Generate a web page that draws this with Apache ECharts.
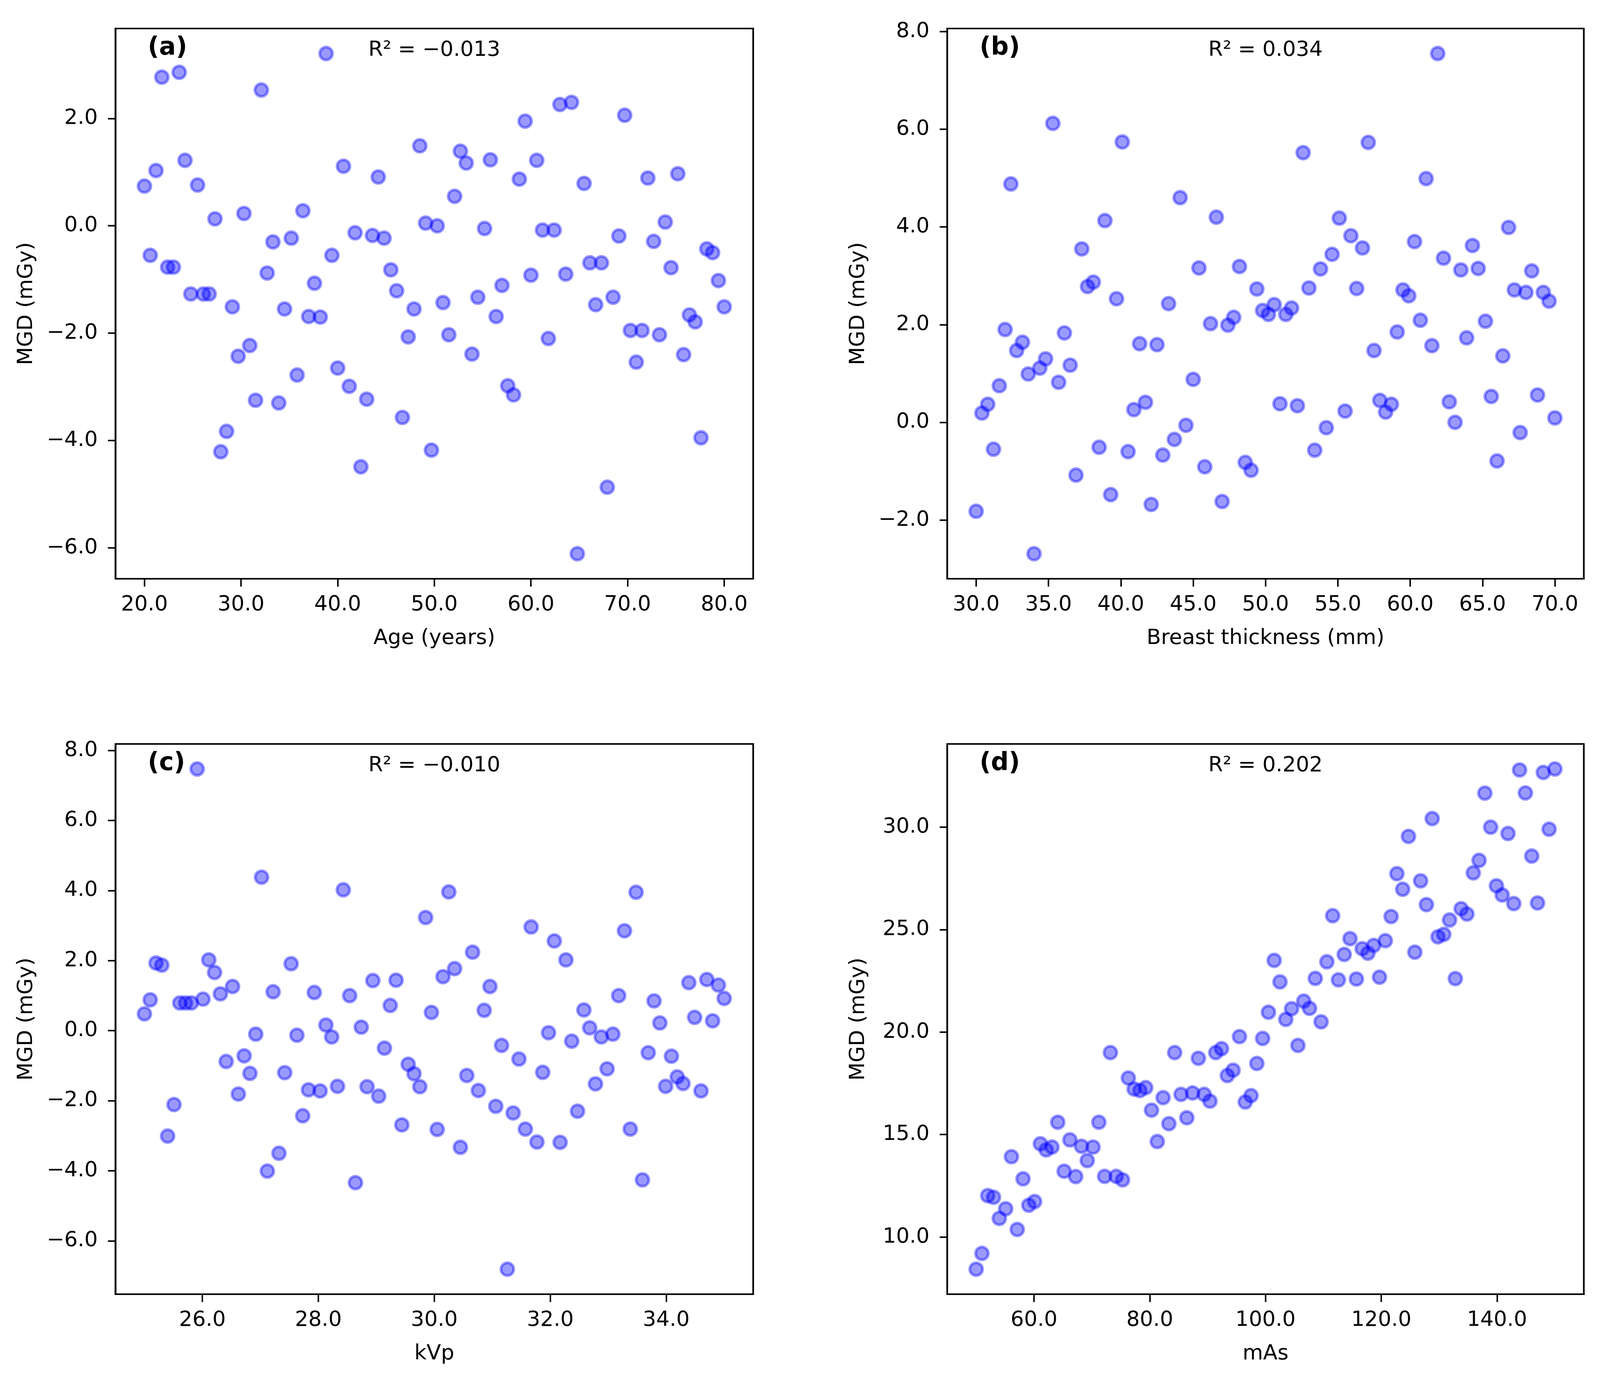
<!DOCTYPE html>
<html>
<head>
<meta charset="utf-8">
<script src="https://cdn.jsdelivr.net/npm/echarts@6.0.0/dist/echarts.min.js"></script>
<style>
  html, body { margin: 0; padding: 0; background: #fff; overflow: hidden; }
  #chart { width: 100vw; height: 100vh; }
</style>
</head>
<body>
<div id="chart"></div>
<script>
// (a) age vs MGD
const ageX = [
  20.0, 20.6, 21.2, 21.8, 22.4, 23.0, 23.6, 24.2, 24.8, 25.5,
  26.1, 26.7, 27.3, 27.9, 28.5, 29.1, 29.7, 30.3, 30.9, 31.5,
  32.1, 32.7, 33.3, 33.9, 34.5, 35.2, 35.8, 36.4, 37.0, 37.6,
  38.2, 38.8, 39.4, 40.0, 40.6, 41.2, 41.8, 42.4, 43.0, 43.6,
  44.2, 44.8, 45.5, 46.1, 46.7, 47.3, 47.9, 48.5, 49.1, 49.7,
  50.3, 50.9, 51.5, 52.1, 52.7, 53.3, 53.9, 54.5, 55.2, 55.8,
  56.4, 57.0, 57.6, 58.2, 58.8, 59.4, 60.0, 60.6, 61.2, 61.8,
  62.4, 63.0, 63.6, 64.2, 64.8, 65.5, 66.1, 66.7, 67.3, 67.9,
  68.5, 69.1, 69.7, 70.3, 70.9, 71.5, 72.1, 72.7, 73.3, 73.9,
  74.5, 75.2, 75.8, 76.4, 77.0, 77.6, 78.2, 78.8, 79.4, 80.0
];
const ageY = [
  0.74, -0.55, 1.03, 2.77, -0.77, -0.77, 2.86, 1.22, -1.27, 0.76,
  -1.27, -1.27, 0.13, -4.21, -3.83, -1.51, -2.43, 0.23, -2.23, -3.25,
  2.53, -0.88, -0.30, -3.30, -1.55, -0.23, -2.78, 0.28, -1.69, -1.07,
  -1.70, 3.21, -0.55, -2.65, 1.11, -2.99, -0.13, -4.49, -3.23, -0.18,
  0.91, -0.23, -0.82, -1.21, -3.57, -2.07, -1.55, 1.49, 0.05, -4.18,
  0.00, -1.43, -2.03, 0.55, 1.39, 1.17, -2.39, -1.33, -0.05, 1.23,
  -1.69, -1.11, -2.98, -3.15, 0.87, 1.95, -0.92, 1.22, -0.08, -2.10,
  -0.08, 2.26, -0.90, 2.30, -6.11, 0.79, -0.69, -1.47, -0.69, -4.87,
  -1.33, -0.19, 2.06, -1.95, -2.54, -1.95, 0.89, -0.29, -2.03, 0.07,
  -0.78, 0.97, -2.40, -1.66, -1.79, -3.95, -0.43, -0.50, -1.02, -1.51
];

// (b) breast thickness vs MGD
const thickX = [
  30.0, 30.4, 30.8, 31.2, 31.6, 32.0, 32.4, 32.8, 33.2, 33.6,
  34.0, 34.4, 34.8, 35.3, 35.7, 36.1, 36.5, 36.9, 37.3, 37.7,
  38.1, 38.5, 38.9, 39.3, 39.7, 40.1, 40.5, 40.9, 41.3, 41.7,
  42.1, 42.5, 42.9, 43.3, 43.7, 44.1, 44.5, 45.0, 45.4, 45.8,
  46.2, 46.6, 47.0, 47.4, 47.8, 48.2, 48.6, 49.0, 49.4, 49.8,
  50.2, 50.6, 51.0, 51.4, 51.8, 52.2, 52.6, 53.0, 53.4, 53.8,
  54.2, 54.6, 55.1, 55.5, 55.9, 56.3, 56.7, 57.1, 57.5, 57.9,
  58.3, 58.7, 59.1, 59.5, 59.9, 60.3, 60.7, 61.1, 61.5, 61.9,
  62.3, 62.7, 63.1, 63.5, 63.9, 64.3, 64.7, 65.2, 65.6, 66.0,
  66.4, 66.8, 67.2, 67.6, 68.0, 68.4, 68.8, 69.2, 69.6, 70.0
];
const thickY = [
  -1.82, 0.19, 0.37, -0.55, 0.75, 1.90, 4.88, 1.47, 1.64, 0.99,
  -2.69, 1.11, 1.30, 6.12, 0.82, 1.83, 1.17, -1.08, 3.55, 2.78,
  2.87, -0.51, 4.13, -1.48, 2.53, 5.74, -0.60, 0.26, 1.61, 0.41,
  -1.68, 1.59, -0.67, 2.43, -0.35, 4.60, -0.06, 0.88, 3.16, -0.91,
  2.02, 4.20, -1.62, 1.99, 2.15, 3.19, -0.82, -0.98, 2.73, 2.29,
  2.21, 2.41, 0.38, 2.21, 2.34, 0.34, 5.52, 2.75, -0.57, 3.14,
  -0.11, 3.44, 4.18, 0.23, 3.82, 2.74, 3.57, 5.73, 1.47, 0.45,
  0.21, 0.37, 1.85, 2.71, 2.59, 3.70, 2.09, 4.99, 1.57, 7.55,
  3.36, 0.42, 0.00, 3.12, 1.73, 3.62, 3.15, 2.07, 0.53, -0.79,
  1.36, 3.99, 2.71, -0.21, 2.66, 3.10, 0.56, 2.66, 2.48, 0.09
];

// (c) kVp vs MGD
const kvpX = [
  25.00, 25.10, 25.20, 25.30, 25.40, 25.51, 25.61, 25.71, 25.81, 25.91,
  26.01, 26.11, 26.21, 26.31, 26.41, 26.52, 26.62, 26.72, 26.82, 26.92,
  27.02, 27.12, 27.22, 27.32, 27.42, 27.53, 27.63, 27.73, 27.83, 27.93,
  28.03, 28.13, 28.23, 28.33, 28.43, 28.54, 28.64, 28.74, 28.84, 28.94,
  29.04, 29.14, 29.24, 29.34, 29.44, 29.55, 29.65, 29.75, 29.85, 29.95,
  30.05, 30.15, 30.25, 30.35, 30.45, 30.56, 30.66, 30.76, 30.86, 30.96,
  31.06, 31.16, 31.26, 31.36, 31.46, 31.57, 31.67, 31.77, 31.87, 31.97,
  32.07, 32.17, 32.27, 32.37, 32.47, 32.58, 32.68, 32.78, 32.88, 32.98,
  33.08, 33.18, 33.28, 33.38, 33.48, 33.59, 33.69, 33.79, 33.89, 33.99,
  34.09, 34.19, 34.29, 34.39, 34.49, 34.60, 34.70, 34.80, 34.90, 35.00
];
const kvpY = [
  0.48, 0.88, 1.93, 1.87, -3.01, -2.11, 0.79, 0.79, 0.79, 7.47,
  0.90, 2.02, 1.66, 1.05, -0.88, 1.26, -1.81, -0.72, -1.22, -0.10,
  4.38, -4.01, 1.11, -3.50, -1.20, 1.91, -0.13, -2.43, -1.69, 1.09,
  -1.72, 0.16, -0.18, -1.59, 4.02, 1.00, -4.34, 0.10, -1.60, 1.43,
  -1.87, -0.50, 0.72, 1.44, -2.69, -0.96, -1.23, -1.60, 3.23, 0.52,
  -2.82, 1.54, 3.96, 1.77, -3.33, -1.28, 2.24, -1.71, 0.58, 1.26,
  -2.16, -0.42, -6.81, -2.35, -0.81, -2.81, 2.96, -3.18, -1.19, -0.06,
  2.56, -3.19, 2.02, -0.30, -2.30, 0.59, 0.08, -1.52, -0.18, -1.09,
  -0.10, 1.00, 2.85, -2.81, 3.95, -4.26, -0.63, 0.85, 0.22, -1.59,
  -0.73, -1.32, -1.51, 1.37, 0.38, -1.72, 1.46, 0.28, 1.30, 0.92
];

// (d) mAs vs MGD
const masX = [
  50.0, 51.0, 52.0, 53.0, 54.0, 55.1, 56.1, 57.1, 58.1, 59.1,
  60.1, 61.1, 62.1, 63.1, 64.1, 65.2, 66.2, 67.2, 68.2, 69.2,
  70.2, 71.2, 72.2, 73.2, 74.2, 75.3, 76.3, 77.3, 78.3, 79.3,
  80.3, 81.3, 82.3, 83.3, 84.3, 85.4, 86.4, 87.4, 88.4, 89.4,
  90.4, 91.4, 92.4, 93.4, 94.4, 95.5, 96.5, 97.5, 98.5, 99.5,
  100.5, 101.5, 102.5, 103.5, 104.5, 105.6, 106.6, 107.6, 108.6, 109.6,
  110.6, 111.6, 112.6, 113.6, 114.6, 115.7, 116.7, 117.7, 118.7, 119.7,
  120.7, 121.7, 122.7, 123.7, 124.7, 125.8, 126.8, 127.8, 128.8, 129.8,
  130.8, 131.8, 132.8, 133.8, 134.8, 135.9, 136.9, 137.9, 138.9, 139.9,
  140.9, 141.9, 142.9, 143.9, 144.9, 146.0, 147.0, 148.0, 149.0, 150.0
];
const masY = [
  8.43, 9.20, 12.02, 11.94, 10.91, 11.38, 13.92, 10.37, 12.84, 11.55,
  11.73, 14.55, 14.25, 14.39, 15.60, 13.21, 14.74, 12.95, 14.43, 13.73,
  14.39, 15.60, 12.96, 19.00, 12.96, 12.79, 17.76, 17.22, 17.15, 17.29,
  16.19, 14.66, 16.80, 15.53, 19.00, 16.96, 15.82, 17.03, 18.72, 16.96,
  16.63, 19.00, 19.19, 17.88, 18.14, 19.78, 16.59, 16.90, 18.47, 19.69,
  20.97, 23.50, 22.45, 20.62, 21.14, 19.35, 21.51, 21.16, 22.62, 20.50,
  23.43, 25.68, 22.55, 23.79, 24.56, 22.59, 24.07, 23.85, 24.23, 22.68,
  24.46, 25.64, 27.73, 26.97, 29.55, 23.90, 27.38, 26.22, 30.42, 24.65,
  24.77, 25.47, 22.61, 26.02, 25.76, 27.77, 28.38, 31.66, 30.00, 27.14,
  26.69, 29.69, 26.27, 32.79, 31.67, 28.59, 26.30, 32.67, 29.90, 32.84
];

const ageTicks = [20, 30, 40, 50, 60, 70, 80];
const thickTicks = [30, 35, 40, 45, 50, 55, 60, 65, 70];
const kvpTicks = [26, 28, 30, 32, 34];
const masTicks = [60, 80, 100, 120, 140];
const mgdTicksA = [-6, -4, -2, 0, 2];
const mgdTicksB = [-2, 0, 2, 4, 6, 8];
const mgdTicksC = [-6, -4, -2, 0, 2, 4, 6, 8];
const mgdTicksD = [10, 15, 20, 25, 30];

const panelLabels = ['(a)', '(b)', '(c)', '(d)'];
const r2Labels = ['R\u00b2 = \u22120.013', 'R\u00b2 = 0.034', 'R\u00b2 = \u22120.010', 'R\u00b2 = 0.202'];
const xNames = ['Age (years)', 'Breast thickness (mm)', 'kVp', 'mAs'];

const FONT = 'DejaVu Sans';

// layout measured on a 4255 x 3526 canvas, scaled to whatever the page gets
const BASE_W = 4255, BASE_H = 3526;
let panels = [
  { x: ageX, y: ageY, xt: ageTicks, yt: mgdTicksA, left: 307, top: 73, width: 1696 },
  { x: thickX, y: thickY, xt: thickTicks, yt: mgdTicksB, left: 2519, top: 73, width: 1693 },
  { x: kvpX, y: kvpY, xt: kvpTicks, yt: mgdTicksC, left: 307, top: 1905, width: 1696 },
  { x: masX, y: masY, xt: masTicks, yt: mgdTicksD, left: 2519, top: 1905, width: 1693 }
];
const HEIGHT = 1409;

const fmt = (v) => (v < 0 ? '\u2212' : '') + Math.abs(v).toFixed(1);

// matplotlib style 5% margins
const padRange = (arr) => {
  let lo = Math.min(...arr), hi = Math.max(...arr);
  let p = (hi - lo) * 0.05;
  return [lo - p, hi + p];
};

let el = document.getElementById('chart');
let chart = echarts.init(el, null, { renderer: 'canvas' });

const W = chart.getWidth(), H = chart.getHeight();
const sx = W / BASE_W, sy = H / BASE_H, s = Math.min(sx, sy);

let grids = [], xAxes = [], yAxes = [], series = [], titles = [];

panels.forEach((p, i) => {
  let xr = padRange(p.x);
  let yr = padRange(p.y);

  grids.push({
    left: p.left * sx, top: p.top * sy, width: p.width * sx, height: HEIGHT * sy,
    show: true, borderColor: '#000', borderWidth: 4.4 * s, backgroundColor: 'transparent'
  });

  let axisCommon = {
    type: 'value',
    gridIndex: i,
    scale: true,
    splitLine: { show: false },
    axisLine: { show: true, onZero: false, lineStyle: { color: '#000', width: 4.4 * s } },
    nameLocation: 'middle',
    nameTextStyle: { fontFamily: FONT, fontSize: 56 * s, color: '#000' }
  };

  xAxes.push(Object.assign({}, axisCommon, {
    min: xr[0], max: xr[1],
    name: xNames[i],
    nameGap: 126 * sy,
    axisTick: { show: true, length: 20 * sy, customValues: p.xt, lineStyle: { color: '#000', width: 4 * s } },
    axisLabel: { customValues: p.xt, formatter: fmt, margin: 40 * sy, fontFamily: FONT, fontSize: 56 * s, color: '#000' }
  }));

  yAxes.push(Object.assign({}, axisCommon, {
    min: yr[0], max: yr[1],
    name: 'MGD (mGy)',
    nameGap: 208 * sx,
    axisTick: { show: true, length: 20 * sx, customValues: p.yt, lineStyle: { color: '#000', width: 4 * s } },
    axisLabel: { customValues: p.yt, formatter: fmt, margin: 47 * sx, fontFamily: FONT, fontSize: 56 * s, color: '#000' }
  }));

  series.push({
    type: 'scatter',
    xAxisIndex: i,
    yAxisIndex: i,
    symbol: 'circle',
    symbolSize: 34 * s,
    data: p.x.map((v, k) => [v, p.y[k]]),
    itemStyle: {
      color: 'rgba(0, 0, 255, 0.5)',
      borderColor: 'rgba(0, 0, 255, 0.5)',
      borderWidth: 7.5 * s
    },
    emphasis: { disabled: true },
    animation: false
  });

  titles.push({
    text: panelLabels[i],
    left: (p.left + 86) * sx,
    top: (p.top + 18) * sy,
    padding: 0,
    textStyle: { fontFamily: FONT, fontSize: 66 * s, fontWeight: 'bold', color: '#000' }
  });
  titles.push({
    text: r2Labels[i],
    left: (p.left + p.width / 2) * sx,
    top: (p.top + 29) * sy,
    textAlign: 'center',
    padding: 0,
    textStyle: { fontFamily: FONT, fontSize: 56 * s, fontWeight: 'normal', color: '#000' }
  });
});

chart.setOption({
  backgroundColor: '#fff',
  animation: false,
  title: titles,
  grid: grids,
  xAxis: xAxes,
  yAxis: yAxes,
  series: series
});
</script>
</body>
</html>
